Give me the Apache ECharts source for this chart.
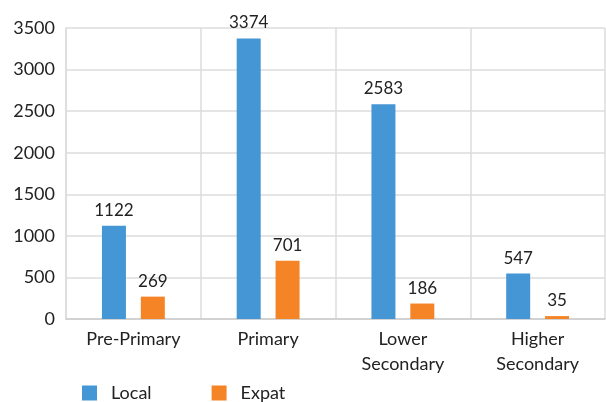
<!DOCTYPE html>
<html>
<head>
<meta charset="utf-8">
<script src="https://cdn.jsdelivr.net/npm/echarts@6/dist/echarts.min.js"></script>
<style>
  html, body { margin: 0; padding: 0; background: #fff; }
  #chart { width: 606px; height: 402px; }
</style>
</head>
<body>
<div id="chart"></div>
<script>
// datos
const categorias = ['Pre-Primary', 'Primary', 'Lower\nSecondary', 'Higher\nSecondary'];
const local = [1122, 3374, 2583, 547];
const expat = [269, 701, 186, 35];

const fuente = 'Lato';

var myChart = echarts.init(document.getElementById('chart'));
var option;

option = {
    animation: false,
    legend: {
        left: 77,
        bottom: -5,
        itemWidth: 15,
        itemHeight: 15,
        itemGap: 60,
        icon: 'rect',
        textStyle: {
            fontFamily: fuente,
            fontSize: 18,
            color: '#222',
            padding: [0, 0, 0, 9]
        },
        data: ['Local', 'Expat']
    },
    grid: {
        left: 66,
        right: 1,
        top: 28,
        bottom: 83
    },
    xAxis: {
        type: 'category',
        data: categorias,
        axisTick: { show: false },
        axisLine: { lineStyle: { color: '#ccc', width: 1.5 } },
        splitLine: { show: true, lineStyle: { color: '#ddd', width: 1.5 } },
        axisLabel: {
            fontFamily: fuente,
            fontSize: 18,
            color: '#222',
            lineHeight: 25,
            margin: 8
        }
    },
    yAxis: {
        type: 'value',
        min: 0,
        max: 3500,
        interval: 500,
        axisLine: { show: true, lineStyle: { color: '#ddd', width: 1.5 } },
        axisTick: { show: false },
        splitLine: { lineStyle: { color: '#ddd', width: 1.5 } },
        axisLabel: {
            fontFamily: fuente,
            fontSize: 18,
            color: '#222',
            margin: 11,
            formatter: function (v) { return String(v); }
        }
    },
    series: [
        {
            name: 'Local',
            type: 'bar',
            data: local,
            barWidth: 24,
            barGap: '62%',
            itemStyle: { color: '#4596d4' },
            label: {
                show: true,
                position: 'top',
                distance: 7,
                fontFamily: fuente,
                fontSize: 17,
                color: '#222'
            }
        },
        {
            name: 'Expat',
            type: 'bar',
            data: expat,
            barWidth: 24,
            itemStyle: { color: '#f58426' },
            label: {
                show: true,
                position: 'top',
                distance: 7,
                fontFamily: fuente,
                fontSize: 17,
                color: '#222'
            }
        }
    ]
};

option && myChart.setOption(option);
</script>
</body>
</html>
